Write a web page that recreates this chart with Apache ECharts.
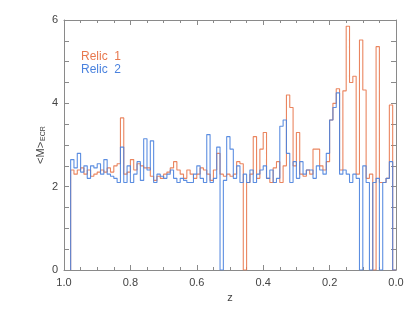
<!DOCTYPE html>
<html>
<head>
<meta charset="utf-8">
<script src="https://cdn.jsdelivr.net/npm/echarts@6/dist/echarts.min.js"></script>
<style>html,body{margin:0;padding:0;background:#fff}#c{width:415px;height:312px}</style>
</head>
<body>
<div id="c"></div>
<script>
// bins of width 0.01, from z = 0.98 down to z = 0.00
var zStart = 0.98;
var binWidth = 0.01;
var xTicks = [1.0, 0.8, 0.6, 0.4, 0.2, 0.0];
var yTicks = [0, 2, 4, 6];
var relic1 = [
  2.4,2.3,2.4,2.45,2.3,2.4,2.25,2.3,2.35,2.4,
  2.35,2.45,2.35,2.5,2.55,3.65,2.3,2.35,2.65,2.4,
  2.55,2.5,2.45,2.45,2.25,2.15,2.25,2.2,2.3,2.35,
  2.45,2.6,2.4,2.3,2.2,2.4,2.3,2.2,2.3,2.45,
  2.4,2.3,2.15,2.4,2.8,2.3,2.25,2.3,2.25,2.3,
  2.6,2.55,0,2.1,2.3,3.2,2.2,2.9,3.3,2.2,
  2.1,2.45,2.6,2.1,2.5,4.2,3.9,2.5,3.3,2.3,
  2.25,2.4,2.3,2.9,2.9,2.5,2.4,2.6,3.6,4.0,
  4.35,2.4,4.3,5.85,4.5,4.65,2.3,5.52,4.32,2.2,
  2.3,0,5.36,2.1,2.1,2.2,3.96,0
];
var relic2 = [
  2.65,2.45,2.8,2.35,2.5,2.2,2.5,2.45,2.55,2.3,
  2.65,2.3,2.25,2.2,2.1,2.95,2.1,2.5,2.1,2.3,
  2.6,2.15,3.15,2.4,3.1,2.1,2.3,2.25,2.2,2.3,
  2.4,2.2,2.1,2.2,2.15,2.1,2.1,2.3,2.5,2.2,
  2.1,3.25,2.1,2.2,2.95,0,2.15,3.2,2.9,2.2,
  2.5,2.1,2.3,2.1,2.4,2.1,2.3,2.4,2.5,2.2,
  2.4,2.1,2.2,3.45,3.6,2.8,2.1,2.6,2.2,2.6,
  2.3,2.4,2.4,2.2,2.5,2.4,2.3,2.8,3.6,3.9,
  4.25,2.3,2.4,2.3,2.1,2.3,2.2,0,2.5,2.1,
  0,2.1,2.2,0,2.1,2.2,2.6,0
];
var names = ['Relic  1', 'Relic  2'];
var colors = ['#E8784E', '#4A82DE'];

function histPoints(vals) {
  var pts = [[zStart, 0]];
  for (var k = 0; k < vals.length; k++) {
    var hi = +(zStart - binWidth * k).toFixed(4);
    var lo = +(zStart - binWidth * (k + 1)).toFixed(4);
    if (lo < 0) lo = 0;
    pts.push([hi, vals[k]]);
    pts.push([lo, vals[k]]);
  }
  return pts;
}

var chart = echarts.init(document.getElementById('c'), null, {renderer: 'canvas'});
var axisCol = '#8a8a8a';
var labCol = '#444';
var font = 'Liberation Sans, Arial, sans-serif';
function xAx(pos, show) {
  return {
    type: 'value', min: 0, max: 1, interval: 0.2, inverse: true, position: pos,
    axisLine: {show: true, onZero: false, lineStyle: {color: axisCol, width: 1}},
    axisTick: {show: true, inside: true, length: 5, lineStyle: {color: axisCol}},
    minorTick: {show: true, splitNumber: 4, length: 3, lineStyle: {color: axisCol}},
    axisLabel: {show: show, color: labCol, fontSize: 11, fontFamily: font, margin: 7,
      formatter: function (v) { return v.toFixed(1); }},
    splitLine: {show: false},
    name: show ? 'z' : '', nameLocation: 'middle', nameGap: 22,
    nameTextStyle: {color: labCol, fontSize: 11, fontFamily: font}
  };
}
function yAx(pos, show) {
  return {
    type: 'value', min: 0, max: 6, interval: 2, position: pos,
    axisLine: {show: true, onZero: false, lineStyle: {color: axisCol, width: 1}},
    axisTick: {show: true, inside: true, length: 5, lineStyle: {color: axisCol}},
    minorTick: {show: true, splitNumber: 4, length: 5, lineStyle: {color: axisCol}},
    axisLabel: {show: show, color: labCol, fontSize: 11, fontFamily: font, margin: 6},
    splitLine: {show: false},
    name: show ? '<M>{s|ECR}' : '', nameLocation: 'middle', nameGap: 17, nameRotate: 90,
    nameMoveOverlap: false,
    nameTextStyle: {color: labCol, fontSize: 11, fontFamily: font,
      rich: {s: {fontSize: 7, color: labCol, fontFamily: font, verticalAlign: 'bottom', padding: [6, 0, 0, 1]}}}
  };
}
var series = [relic1, relic2].map(function (vals, i) {
  return {
    name: names[i], type: 'line', xAxisIndex: 0, yAxisIndex: 0,
    data: histPoints(vals), showSymbol: false, symbol: 'none', animation: false,
    lineStyle: {color: colors[i], width: 1.1, opacity: 0.9},
    z: 2
  };
});
chart.setOption({
  backgroundColor: '#fff',
  animation: false,
  grid: {left: 64, right: 19, top: 20, bottom: 42},
  xAxis: [xAx('bottom', true), xAx('top', false)],
  yAxis: [yAx('left', true), yAx('right', false)],
  series: series,
  graphic: [
    {type: 'text', left: 81, top: 51, style: {text: names[0], fill: colors[0], font: '12px ' + font}},
    {type: 'text', left: 81, top: 64, style: {text: names[1], fill: colors[1], font: '12px ' + font}}
  ]
});
</script>
</body>
</html>
